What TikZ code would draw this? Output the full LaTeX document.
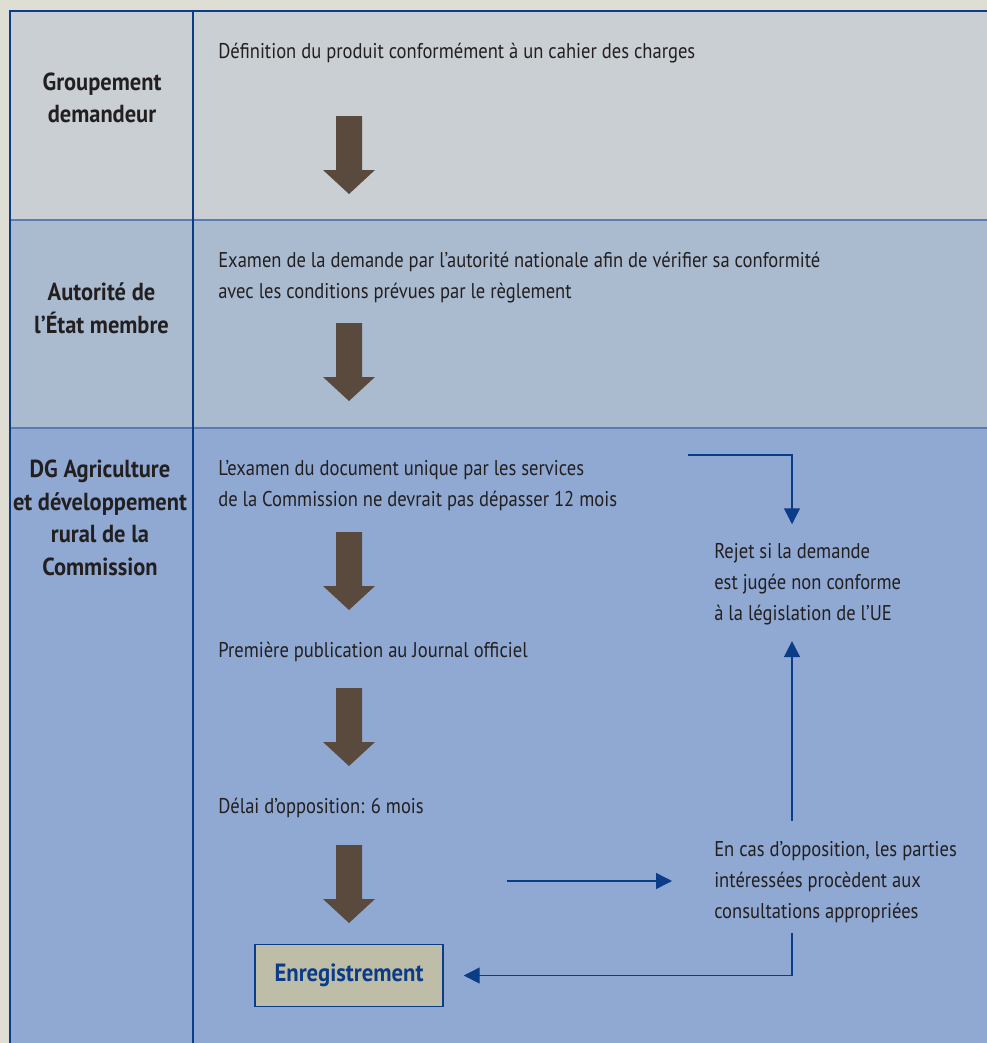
\documentclass[tikz,border=0pt]{standalone}
\usepackage{fontspec}
\setmainfont{PT Sans}[FakeStretch=0.87, BoldFeatures={FakeStretch=0.91}]
\usetikzlibrary{arrows.meta,calc}
\definecolor{bgc}{HTML}{DEDED4}
\definecolor{rowa}{HTML}{C9CFD3}
\definecolor{rowb}{HTML}{AABBD0}
\definecolor{rowc}{HTML}{8FA9D2}
\definecolor{arrbrown}{HTML}{5A4A3E}
\definecolor{dblue}{HTML}{0B3C88}
\definecolor{lblue}{HTML}{5A7DB8}
\definecolor{txt}{HTML}{231F20}
\definecolor{boxfill}{HTML}{BDBDA8}
\begin{document}
\begin{tikzpicture}[x=0.75pt,y=-0.75pt,
  body/.style={font=\fontsize{16}{23.25}\selectfont, text=txt, inner sep=0pt, align=left},
  lane/.style={font=\fontsize{18.5}{24.5}\selectfont\bfseries, text=txt, inner sep=0pt, align=center},
  flow/.style={draw=dblue, line width=1.1pt, -{Triangle[width=12pt,length=12pt]}},
  bigarrow/.pic={\fill[arrbrown] (-13,0) -- (13,0) -- (13,54) -- (26,54) -- (0,78) -- (-26,54) -- (-13,54) -- cycle;}
]
\useasboundingbox (0,0) rectangle (987,1043);
\fill[bgc] (0,0) rectangle (987,1043);
\fill[rowa] (10,11) rectangle (987,220);
\fill[rowb] (10,220) rectangle (987,428);
\fill[rowc] (10,428) rectangle (987,1043);
\draw[lblue, line width=1.5pt] (10,220) -- (987,220) (10,428) -- (987,428);
\draw[dblue, line width=1.5pt] (987,11) -- (10,11) -- (10,1043);
\draw[dblue, line width=1.5pt] (193,11) -- (193,1043);

\node[lane] (l1) at (102,98) {Groupement\\demandeur};
\node[lane] (l2) at (101.5,308) {Autorité de\\l’État membre};
\node[lane] (l3) at (100,518) {DG Agriculture\\et développement\\rural de la\\Commission};

\node[body, anchor=base west] (t1) at (218,58) {Définition du produit conformément à un cahier des charges};
\node[body, anchor=west] (t2) at (218,277.5) {Examen de la demande par l’autorité nationale afin de vérifier sa conformité\\avec les conditions prévues par le règlement};
\node[body, anchor=west] (t3) at (218,486) {L’examen du document unique par les services\\de la Commission ne devrait pas dépasser 12 mois};
\node[body, anchor=base west] (t4) at (218,657) {Première publication au Journal officiel};
\node[body, anchor=base west] (t5) at (218,813) {Délai d’opposition: 6 mois};
\node[body, anchor=west] (rej) at (714,584) {Rejet si la demande\\est jugée non conforme\\à la législation de l’UE};
\node[body, anchor=west] (encas) at (714,882) {En cas d’opposition, les parties\\intéressées procèdent aux\\consultations appropriées};
\node[draw=dblue, line width=1.1pt, fill=boxfill, minimum width=141pt, minimum height=46.5pt, inner sep=0pt, text=dblue, font=\fontsize{18.7}{20}\selectfont\bfseries] (enr) at (349,975.5) {Enregistrement};

\foreach \yy in {116,323,532,688,845} \pic at (349,\yy) {bigarrow};

\coordinate (vx) at (792,0);
\coordinate (c1s) at (688,455);
\coordinate (c3s) at (507,881);
\draw[flow, shorten >=14pt] (c1s) -| (vx |- rej.north);
\draw[flow, shorten <=15pt, shorten >=12pt] (vx |- encas.north) -- (vx |- rej.south);
\draw[flow, shorten >=31.5pt] (c3s) -- (c3s -| encas.west);
\draw[flow, shorten <=7.5pt, shorten >=15pt] (vx |- encas.south) |- (enr.east);
\end{tikzpicture}
\end{document}
